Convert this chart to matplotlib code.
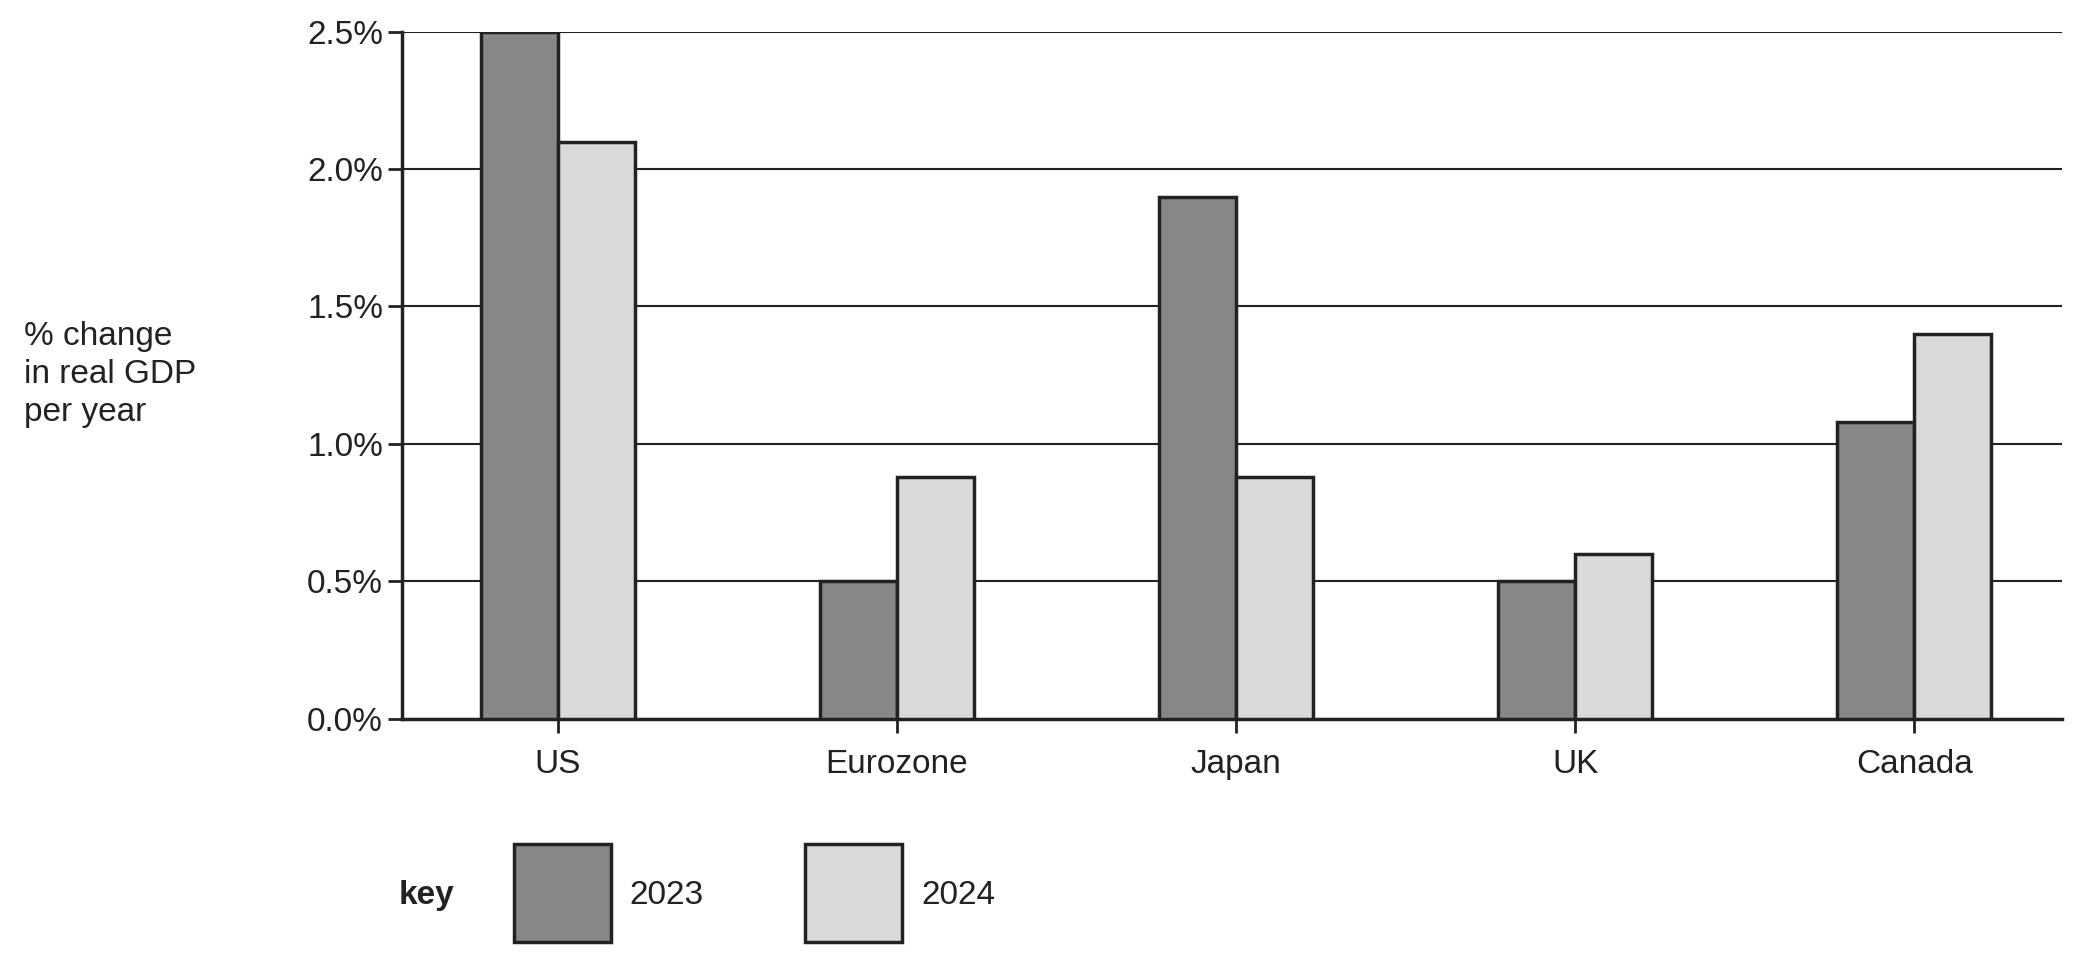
import matplotlib.pyplot as plt
from matplotlib.patches import Rectangle

plt.rcParams["font.family"] = ["Liberation Sans", "DejaVu Sans"]

countries = ["US", "Eurozone", "Japan", "UK", "Canada"]
gdp_2023 = [2.5, 0.5, 1.9, 0.5, 1.08]
gdp_2024 = [2.1, 0.88, 0.88, 0.6, 1.4]
yticks = [0.0, 0.5, 1.0, 1.5, 2.0, 2.5]

DARK = "#878787"
LIGHT = "#d9d9d9"
EDGE = "#222222"
FS = 24

fig = plt.figure(figsize=(20.86, 9.6), dpi=100)
ax = fig.add_axes([0.1926, 0.2514, 0.7959, 0.7156])

w = 0.227
x = range(len(countries))
ax.bar([i - w / 2 for i in x], gdp_2023, width=w, color=DARK, edgecolor=EDGE, linewidth=2.5, zorder=3)
ax.bar([i + w / 2 for i in x], gdp_2024, width=w, color=LIGHT, edgecolor=EDGE, linewidth=2.5, zorder=3)

ax.set_xlim(-0.46, 4.435)
ax.set_ylim(0, 2.5)
ax.set_yticks(yticks)
ax.set_yticklabels([f"{v:.1f}%" for v in yticks], fontsize=FS)
ax.set_xticks(list(x))
ax.set_xticklabels(countries, fontsize=FS)
ax.yaxis.grid(True, color="#222222", linewidth=1.5, zorder=0)
ax.tick_params(axis="both", direction="out", length=10, width=2, color=EDGE, labelcolor="#222222")
ax.tick_params(axis="x", pad=12)
for s in ["top", "right"]:
    ax.spines[s].set_visible(False)
for s in ["left", "bottom"]:
    ax.spines[s].set_linewidth(2.5)
    ax.spines[s].set_color(EDGE)

fig.text(0.0115, 0.61, "% change\nin real GDP\nper year", fontsize=FS, color="#222222",
         va="center", ha="left", linespacing=1.3)

# key
fig.text(0.191, 0.067, "key", fontsize=FS, fontweight="bold", va="center", ha="left", color="#222222")
for x0, col, lab in [(0.2462, DARK, "2023"), (0.3858, LIGHT, "2024")]:
    fig.patches.append(Rectangle((x0, 0.019), 0.0466, 0.1014, transform=fig.transFigure,
                                 facecolor=col, edgecolor=EDGE, linewidth=2.5))
    fig.text(x0 + 0.0557, 0.067, lab, fontsize=FS, va="center", ha="left", color="#222222")

fig.savefig("out.png", dpi=100)
